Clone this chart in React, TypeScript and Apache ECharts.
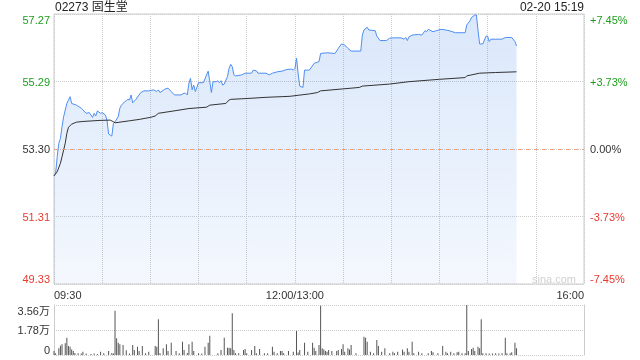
import React, { useEffect, useRef } from 'react';
import * as echarts from 'echarts';

const FONT = "Arial, 'Liberation Sans', 'Noto Sans CJK SC', sans-serif";

const stockTitle = '02273 固生堂';
const timeStamp = '02-20 15:19';
const watermark = 'sina.com';
const prevClose = 53.3;
const maxPct = 7.45;
const totalMinutes = 330;

const leftTickLabels = ['49.33', '51.31', '53.30', '55.29', '57.27'];
const rightTickLabels = ['-7.45%', '-3.73%', '0.00%', '+3.73%', '+7.45%'];
const volTickLabels = ['0', '1.78万', '3.56万'];
const volMax = 35600;
const timeTickLabels: Record<number, string> = { 0: '09:30', 150: '12:00/13:00', 330: '16:00' };

const priceMinutes = [
  0, 1, 2, 3, 4, 5, 6, 8, 9, 10, 11, 14, 17, 18, 20, 22, 23, 24, 25, 26, 27, 29, 30, 32, 33, 34, 35, 36,
  37, 38, 40, 41, 42, 44, 45, 46, 47, 48, 49, 51, 54, 56, 59, 62, 64, 65, 66, 69, 71, 73, 75, 79, 81, 82,
  83, 84, 85, 86, 87, 88, 90, 93, 95, 96, 97, 98, 99, 101, 102, 103, 104, 105, 106, 108, 109, 110, 111,
  112, 113, 117, 119, 123, 124, 126, 127, 132, 134, 136, 139, 142, 145, 148, 149, 150, 151, 152, 153, 155,
  156, 159, 162, 165, 166, 170, 175, 177, 179, 181, 183, 185, 191, 192, 193, 195, 196, 200, 201, 203, 207,
  209, 212, 216, 218, 219, 220, 221, 223, 227, 229, 231, 232, 233, 236, 238, 241, 244, 246, 250, 256, 257,
  259, 260, 262, 263, 264, 265, 267, 269, 270, 271, 272, 279, 281, 285, 287, 288,
];
const prices = [
  52.51, 52.59, 53.07, 53.47, 53.61, 53.96, 54.25, 54.64, 54.74, 54.84, 54.64, 54.59, 54.5, 54.45, 54.35,
  54.37, 54.3, 54.23, 54.35, 54.27, 54.42, 54.35, 54.37, 54.3, 54.15, 53.74, 53.71, 53.68, 54.06, 54.1,
  54.25, 54.5, 54.59, 54.69, 54.72, 54.76, 54.74, 54.89, 54.66, 54.76, 54.96, 55.01, 55.01, 55.04, 54.99,
  55.04, 54.96, 55.06, 55.09, 54.99, 54.89, 54.89, 54.94, 54.94, 54.89, 55.23, 55.38, 55.04, 55.18, 54.99,
  55.25, 55.25, 55.48, 55.59, 55.28, 54.96, 55.28, 55.28, 55.31, 55.25, 55.31, 55.18, 55.21, 55.43, 55.67,
  55.79, 55.72, 55.48, 55.45, 55.48, 55.53, 55.53, 55.62, 55.6, 55.53, 55.53, 55.48, 55.53, 55.57, 55.59,
  55.64, 55.65, 55.62, 55.67, 55.97, 55.53, 55.15, 55.11, 55.62, 55.62, 55.82, 55.87, 56.11, 56.13, 56.11,
  56.26, 56.39, 56.36, 56.26, 56.18, 56.18, 56.65, 56.8, 56.88, 56.8, 56.78, 56.62, 56.49, 56.49, 56.56,
  56.57, 56.57, 56.53, 56.58, 56.49, 56.6, 56.65, 56.67, 56.65, 56.78, 56.75, 56.82, 56.75, 56.78, 56.82,
  56.8, 56.78, 56.72, 56.72, 56.95, 57.07, 57.17, 57.24, 57.24, 56.8, 56.39, 56.39, 56.62, 56.62, 56.46,
  56.53, 56.53, 56.58, 56.58, 56.46, 56.33,
];

const avgMinutes = [
  0, 2, 4, 5, 7, 8, 9, 11, 14, 18, 28, 35, 37, 38, 47, 53, 60, 63, 65, 76, 84, 95, 97, 107, 109, 110, 122,
  132, 142, 147, 152, 159, 164, 166, 190, 192, 209, 221, 240, 256, 257, 265, 275, 288,
];
const avgPrices = [
  52.51, 52.63, 52.88, 53.07, 53.47, 53.76, 53.94, 54.03, 54.09, 54.11, 54.14, 54.15, 54.1, 54.07, 54.13,
  54.17, 54.23, 54.27, 54.35, 54.43, 54.49, 54.53, 54.59, 54.64, 54.74, 54.76, 54.79, 54.82, 54.84, 54.85,
  54.88, 54.92, 54.96, 55.01, 55.11, 55.15, 55.21, 55.28, 55.35, 55.4, 55.45, 55.53, 55.55, 55.57,
];

const volMinutes = [
  0, 1, 3, 4, 5, 7, 8, 9, 10, 11, 12, 13, 15, 17, 18, 20, 23, 25, 27, 29, 31, 34, 36, 37, 38, 39, 40, 41,
  43, 45, 47, 49, 50, 52, 53, 55, 57, 59, 63, 64, 65, 66, 68, 70, 71, 73, 76, 78, 80, 81, 83, 84, 86, 87,
  90, 92, 94, 96, 97, 102, 104, 106, 108, 109, 110, 111, 112, 113, 115, 118, 119, 120, 123, 125, 126, 128,
  131, 133, 136, 137, 139, 141, 142, 143, 146, 149, 151, 152, 153, 156, 158, 161, 162, 163, 165, 166, 167,
  168, 169, 170, 171, 173, 176, 177, 179, 180, 181, 183, 184, 185, 188, 193, 194, 195, 197, 199, 201, 202,
  204, 206, 209, 211, 212, 214, 217, 218, 220, 221, 223, 224, 227, 229, 233, 235, 236, 239, 242, 244, 245,
  247, 249, 251, 252, 254, 256, 257, 258, 260, 261, 262, 264, 265, 266, 267, 269, 271, 273, 275, 277, 279,
  281, 282, 284, 285, 287, 288,
];
const volumes = [
  2850, 1200, 4750, 6650, 7600, 8300, 12300, 6400, 5900, 4000, 2850, 1500, 1200, 1000, 2400, 1000, 800,
  1000, 700, 2400, 1200, 2850, 1500, 1000, 31550, 11850, 8800, 7600, 7100, 3300, 1000, 7100, 3550, 5900,
  2850, 6400, 1200, 2400, 6400, 5900, 25400, 1200, 4750, 7600, 2850, 8800, 2850, 1200, 9500, 3550, 1500,
  7600, 9500, 2850, 1200, 1000, 5900, 8800, 13750, 1200, 3550, 12300, 5200, 5200, 4750, 29650, 3550, 1200,
  1200, 3550, 4250, 1200, 3550, 6400, 1200, 4250, 1200, 1200, 5900, 2400, 1200, 2850, 2850, 1200, 2850,
  2400, 17100, 1700, 3550, 8800, 2400, 8800, 5200, 2850, 7100, 35100, 4750, 4000, 2850, 2400, 3550, 2850,
  2850, 3550, 4250, 7600, 2400, 4750, 4000, 7100, 1200, 13050, 12300, 9500, 2400, 1200, 10700, 6400, 2400,
  4750, 1200, 2400, 1200, 2400, 4000, 2400, 4750, 2400, 9500, 1200, 2400, 1200, 1200, 2850, 1900, 1200,
  6400, 2400, 1200, 2400, 1200, 1900, 2400, 1200, 1200, 35600, 2850, 4250, 5200, 2850, 5900, 4750, 25400,
  1200, 1200, 1000, 1000, 1200, 1000, 1200, 12300, 1200, 1200, 1900, 8800, 4750,
];

const GREEN = '#1e9e1e';
const RED = '#e8392f';
const DARK = '#333333';

const toPct = (p: number) => ((p - prevClose) / prevClose) * 100;
const pctIndex = (v: number) => Math.round((v + maxPct) / (maxPct / 2));
const pctColor = (v: any) => {
  const n = Number(v);
  if (n > 0.001) return GREEN;
  if (n < -0.001) return RED;
  return DARK;
};

export default function App() {
  const ref = useRef<HTMLDivElement>(null);
  useEffect(() => {
    if (!ref.current) return;
    const chart = echarts.init(ref.current, undefined, { renderer: 'svg' });
    const pctInterval = maxPct / 2;
    const option: any = {
      animation: false,
      textStyle: { fontFamily: FONT },
      grid: [
        { left: 54, right: 56, top: 14, height: 270, show: true, borderColor: '#cccccc', borderWidth: 1 },
        { left: 54, right: 56, top: 305, height: 50, show: false },
      ],
      xAxis: [
        {
          type: 'value', gridIndex: 0, min: 0, max: totalMinutes, interval: 30,
          axisLine: { show: false }, axisTick: { show: false },
          splitLine: { show: true, lineStyle: { color: '#cccccc', type: 'dotted' } },
          axisLabel: {
            formatter: (v: number) => timeTickLabels[Math.round(v)] ?? '',
            color: '#333', fontSize: 11, margin: 5, fontFamily: FONT,
            alignMinLabel: 'left', alignMaxLabel: 'right', showMinLabel: true, showMaxLabel: true,
          },
        },
        { type: 'value', gridIndex: 1, min: 0, max: totalMinutes, show: false },
      ],
      yAxis: [
        {
          type: 'value', gridIndex: 0, position: 'left', min: -maxPct, max: maxPct, interval: pctInterval,
          axisLine: { show: false }, axisTick: { show: false },
          splitLine: { show: true, lineStyle: { color: '#cccccc', type: 'dotted' } },
          axisLabel: {
            formatter: (v: number) => leftTickLabels[pctIndex(v)] ?? '',
            color: pctColor, fontSize: 11, margin: 4, fontFamily: FONT,
            verticalAlignMinLabel: 'bottom', verticalAlignMaxLabel: 'top',
            showMinLabel: true, showMaxLabel: true,
          },
        },
        {
          type: 'value', gridIndex: 0, position: 'right', min: -maxPct, max: maxPct, interval: pctInterval,
          axisLine: { show: false }, axisTick: { show: false }, splitLine: { show: false },
          axisLabel: {
            formatter: (v: number) => rightTickLabels[pctIndex(v)] ?? '',
            color: pctColor, fontSize: 11, margin: 6, fontFamily: FONT,
            verticalAlignMinLabel: 'bottom', verticalAlignMaxLabel: 'top',
            showMinLabel: true, showMaxLabel: true,
          },
        },
        {
          type: 'value', gridIndex: 1, position: 'left', min: 0, max: volMax, interval: volMax / 2,
          axisLine: { show: true, lineStyle: { color: '#cccccc' } }, axisTick: { show: false },
          splitLine: { show: true, lineStyle: { color: '#cccccc', type: 'dotted' } },
          axisLabel: {
            formatter: (v: number) => volTickLabels[Math.round(v / (volMax / 2))] ?? '',
            color: '#333', fontSize: 11, margin: 4, fontFamily: FONT,
            verticalAlignMinLabel: 'bottom', verticalAlignMaxLabel: 'top',
            showMinLabel: true, showMaxLabel: true,
          },
        },
        {
          type: 'value', gridIndex: 1, position: 'right', min: 0, max: volMax, interval: volMax / 2,
          axisLine: { show: true, lineStyle: { color: '#cccccc' } }, axisTick: { show: false },
          splitLine: { show: false }, axisLabel: { show: false },
        },
      ],
      series: [
        {
          type: 'line', xAxisIndex: 0, yAxisIndex: 0,
          data: priceMinutes.map((m, i) => [m, toPct(prices[i])]),
          showSymbol: false, symbol: 'none',
          lineStyle: { color: '#4f8ef0', width: 1 },
          areaStyle: {
            origin: 'start',
            color: new echarts.graphic.LinearGradient(0, 0, 0, 1, [
              { offset: 0, color: 'rgba(60,130,232,0.27)' },
              { offset: 1, color: 'rgba(60,130,232,0.08)' },
            ]),
          },
          markLine: {
            silent: true, symbol: 'none', label: { show: false },
            lineStyle: { color: '#f2a07a', type: [4, 4], width: 1 },
            data: [{ yAxis: 0 }],
          },
          z: 3,
        },
        {
          type: 'line', xAxisIndex: 0, yAxisIndex: 0,
          data: avgMinutes.map((m, i) => [m, toPct(avgPrices[i])]),
          showSymbol: false, symbol: 'none',
          lineStyle: { color: '#333333', width: 1 },
          z: 4,
        },
        {
          type: 'bar', xAxisIndex: 1, yAxisIndex: 2,
          data: volMinutes.map((m, i) => [m, volumes[i]]),
          barWidth: 1,
          itemStyle: { color: '#555555' },
        },
      ],
      graphic: [
        { type: 'text', left: 55, top: 1, style: { text: stockTitle, fill: '#222', font: `12px ${FONT}` } },
        { type: 'text', right: 56, top: 1, style: { text: timeStamp, fill: '#222', font: `12px ${FONT}` } },
        { type: 'text', right: 64, top: 273, style: { text: watermark, fill: '#d0d0d0', font: `11px ${FONT}` } },
      ],
    };
    chart.setOption(option);
    return () => chart.dispose();
  }, []);
  return <div ref={ref} style={{ position: 'fixed', left: 0, top: 0, width: 640, height: 360 }} />;
}
